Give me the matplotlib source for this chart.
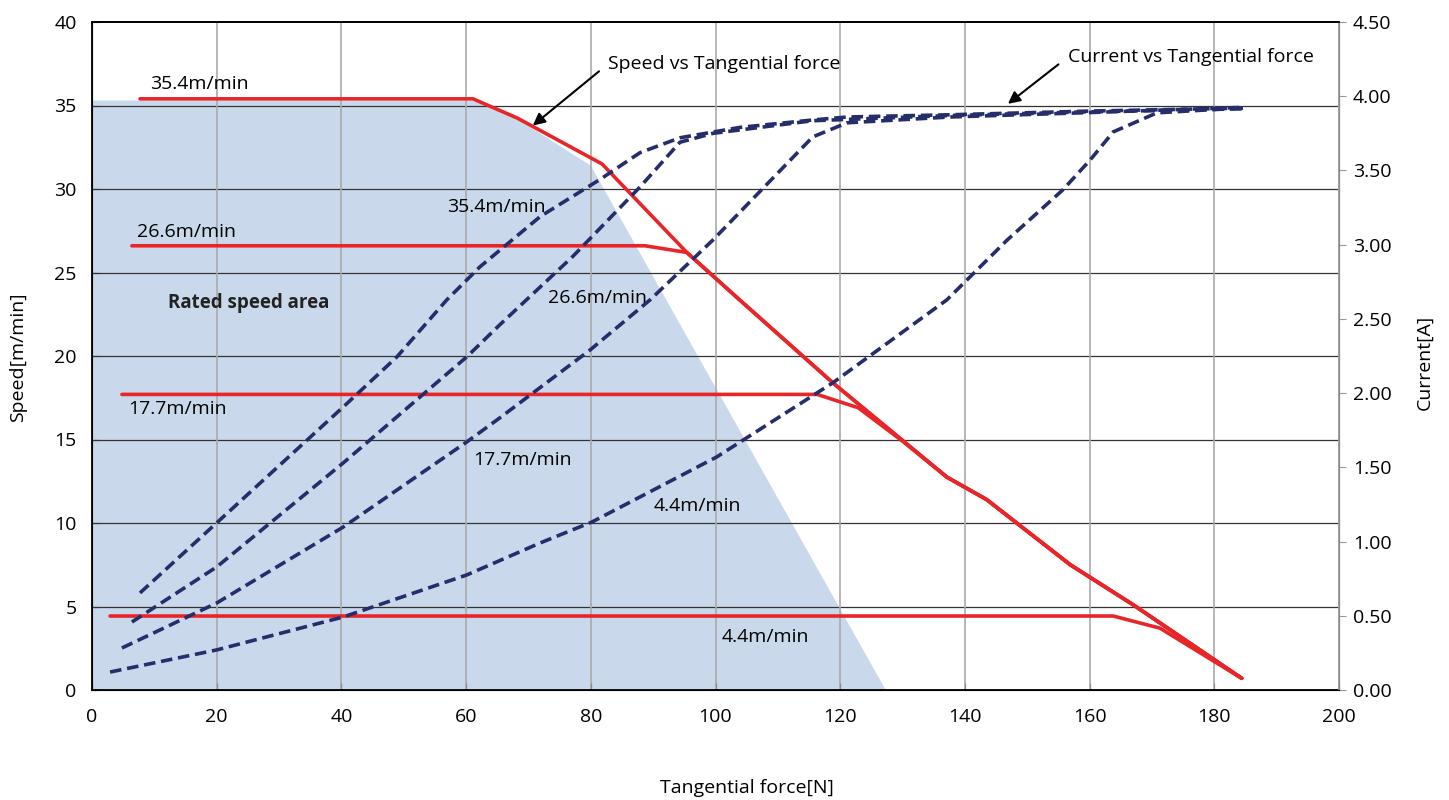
import matplotlib.pyplot as plt
import matplotlib.ticker as mticker

plt.rcParams['font.family'] = ['Open Sans', 'DejaVu Sans']

# Speed vs tangential force (left axis) - one series per rated speed
speed_labels = ["35.4m/min", "26.6m/min", "17.7m/min", "4.4m/min"]
force_354 = [7.7, 61.1, 68.2, 81.8, 95.4, 103.9, 118.8, 137.1, 143.5, 156.9, 167.0, 184.4]
speed_354 = [35.4, 35.4, 34.25, 31.5, 26.2, 23.35, 18.4, 12.75, 11.4, 7.5, 5.1, 0.7]
force_266 = [6.4, 88.7, 95.4, 103.9, 118.8, 137.1, 143.5, 156.9, 167.0, 184.4]
speed_266 = [26.6, 26.6, 26.2, 23.35, 18.4, 12.75, 11.4, 7.5, 5.1, 0.7]
force_177 = [4.8, 116.3, 122.9, 130.0, 137.1, 143.5, 156.9, 167.0, 184.4]
speed_177 = [17.7, 17.7, 16.9, 14.9, 12.75, 11.4, 7.5, 5.1, 0.7]
force_44 = [2.9, 163.8, 171.3, 184.4]
speed_44 = [4.43, 4.43, 3.7, 0.7]

# Current vs tangential force (right axis)
cforce_354 = [7.7, 20.0, 40.3, 48.9, 56.9, 62.2, 71.9, 81.5, 87.9, 94.3, 103.9, 115.6, 121.1, 137.6, 160.0, 184.6]
current_354 = [0.654, 1.126, 1.907, 2.244, 2.628, 2.85, 3.19, 3.44, 3.62, 3.72, 3.79, 3.84, 3.86, 3.875, 3.90, 3.92]
cforce_266 = [6.4, 20.0, 40.3, 60.1, 65.4, 77.1, 87.9, 94.3, 99.6, 115.6, 137.6, 160.0, 184.6]
current_266 = [0.458, 0.829, 1.53, 2.244, 2.46, 2.92, 3.389, 3.69, 3.75, 3.835, 3.87, 3.895, 3.915]
cforce_177 = [4.8, 20.0, 40.3, 60.1, 65.4, 79.9, 89.5, 99.6, 115.6, 121.1, 137.6, 160.0, 184.6]
current_177 = [0.283, 0.586, 1.098, 1.671, 1.833, 2.291, 2.628, 3.032, 3.726, 3.821, 3.86, 3.89, 3.925]
cforce_44 = [2.9, 20.0, 40.3, 60.1, 71.9, 80.2, 100.2, 118.8, 137.1, 146.8, 155.7, 160.1, 163.8, 170.8, 184.6]
current_44 = [0.121, 0.27, 0.492, 0.775, 0.991, 1.132, 1.57, 2.069, 2.628, 3.032, 3.369, 3.571, 3.76, 3.888, 3.922]

# Rated speed area outline
area_force = [0, 61.0, 68.2, 80.0, 127.3, 0]
area_speed = [35.3, 35.3, 34.2, 31.4, 0, 0]

RED = '#e8262a'
NAVY = '#262d6b'
FS = 14

fig = plt.figure(figsize=(14.49, 8.0), dpi=100)
ax = fig.add_axes([92 / 1449, 1 - 690 / 800, (1339 - 92) / 1449, (690 - 22) / 800])
ax2 = ax.twinx()

ax.fill(area_force, area_speed, color='#c9d9eb', lw=0, zorder=1)

# grid
for y in range(5, 40, 5):
    ax.axhline(y, color='#333333', lw=0.9, zorder=2)
for x in range(20, 200, 20):
    ax.axvline(x, color='#aaaaaa', lw=1.2, zorder=2)

for fx, sp in [(force_354, speed_354), (force_266, speed_266),
               (force_177, speed_177), (force_44, speed_44)]:
    ax.plot(fx, sp, color=RED, lw=2.6, solid_capstyle='round', zorder=4)

for fx, cur in [(cforce_354, current_354), (cforce_266, current_266),
                (cforce_177, current_177), (cforce_44, current_44)]:
    ax2.plot(fx, cur, color=NAVY, lw=2.6, dashes=(3.2, 1.6), zorder=4)

ax.set_xlim(0, 200)
ax.set_ylim(0, 40)
ax2.set_ylim(0, 4.5)
ax.set_xticks(range(0, 201, 20))
ax.set_yticks(range(0, 41, 5))
ax2.set_yticks([i * 0.5 for i in range(10)])
ax2.yaxis.set_major_formatter(mticker.FormatStrFormatter('%.2f'))

ax.tick_params(axis='both', direction='in', length=5, labelsize=FS)
ax.tick_params(axis='x', pad=13)
ax.tick_params(axis='y', pad=11)
ax2.tick_params(axis='y', direction='out', length=5, color='#999999', labelsize=FS, pad=5)
for s in ['left', 'bottom', 'top']:
    ax.spines[s].set_linewidth(1.3)
ax2.spines['right'].set_color('#999999')
ax2.spines['right'].set_linewidth(1.3)
ax2.spines['top'].set_linewidth(1.3)

fig.text(18 / 1449, 1 - 357 / 800, "Speed[m/min]", fontsize=FS, rotation=90,
         ha='center', va='center')
fig.text(1425 / 1449, 1 - 362 / 800, "Current[A]", fontsize=FS, rotation=90,
         ha='center', va='center')
fig.text(747 / 1449, 1 - 788 / 800, "Tangential force[N]", fontsize=FS, ha='center', va='center')

# speed curve labels
ax.text(9.3, 36.3, speed_labels[0], fontsize=FS, va='center')
ax.text(7.2, 27.4, speed_labels[1], fontsize=FS, va='center')
ax.text(5.8, 16.8, speed_labels[2], fontsize=FS, va='center')
ax.text(101.0, 3.2, speed_labels[3], fontsize=FS, va='center')

# current curve labels
ax.text(56.9, 28.9, speed_labels[0], fontsize=FS, va='center')
ax.text(73.1, 23.5, speed_labels[1], fontsize=FS, va='center')
ax.text(61.1, 13.8, speed_labels[2], fontsize=FS, va='center')
ax.text(90.0, 11.0, speed_labels[3], fontsize=FS, va='center')

ax.text(12.2, 23.2, "Rated speed area", fontsize=13.5, fontweight='bold',
        color='#222222', va='center', zorder=3)

ax.annotate("Speed vs Tangential force", xy=(70.7, 33.8), xytext=(82.8, 37.5),
            fontsize=FS, va='center', ha='left', zorder=6,
            arrowprops=dict(arrowstyle='-|>', color='black', lw=1.5, relpos=(0, 0.5),
                            mutation_scale=18, shrinkA=6, shrinkB=0))
ax.annotate("Current vs Tangential force", xy=(146.9, 35.1), xytext=(156.5, 37.9),
            fontsize=FS, va='center', ha='left', zorder=6,
            arrowprops=dict(arrowstyle='-|>', color='black', lw=1.5, relpos=(0, 0.5),
                            mutation_scale=18, shrinkA=6, shrinkB=0))

fig.savefig("out.png", dpi=100)
